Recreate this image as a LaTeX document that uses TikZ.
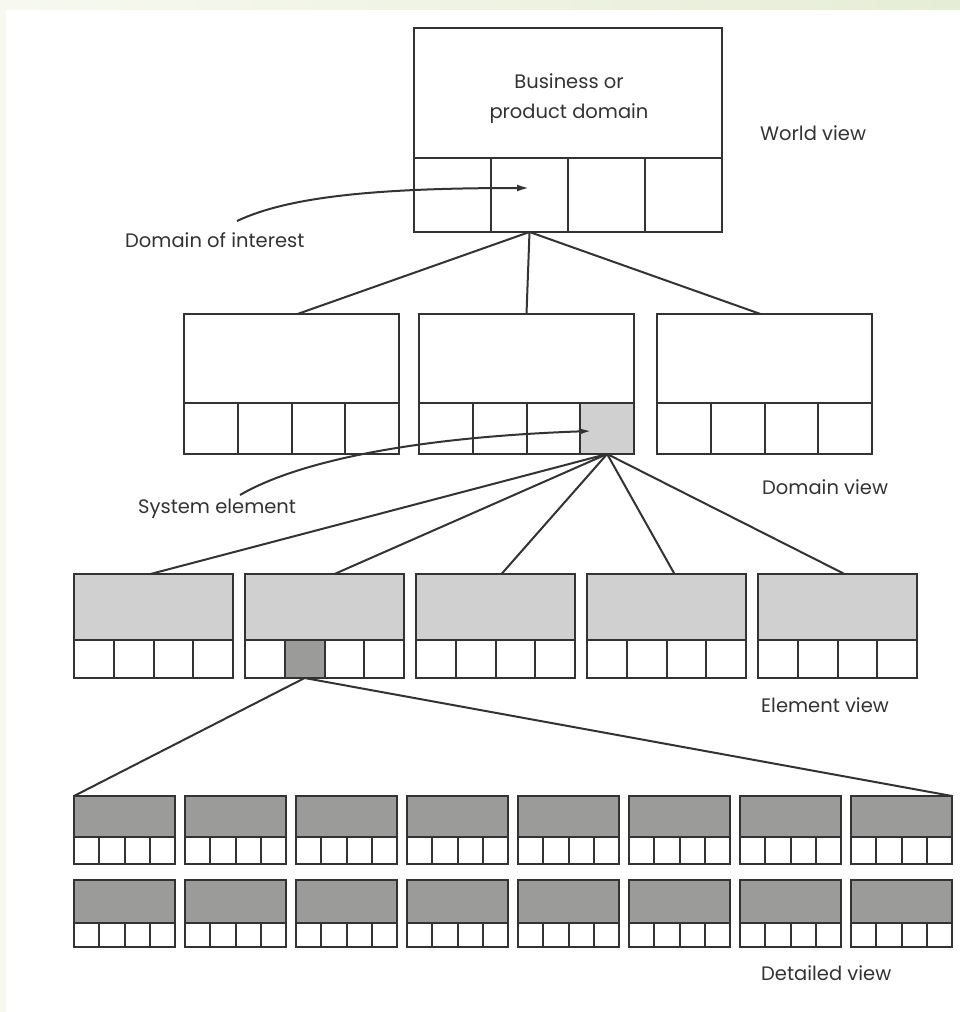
\documentclass[tikz,border=0pt]{standalone}
\usepackage{fontspec}
\setmainfont{Poppins}
\usetikzlibrary{arrows.meta,calc}

\definecolor{ink}{HTML}{333333}
\definecolor{lightfill}{HTML}{D0D0D0}
\definecolor{darkfill}{HTML}{9B9C99}
\definecolor{bgA}{HTML}{F7F9F0}
\definecolor{bgB}{HTML}{E6EDD6}

\tikzset{
  panel/.style={draw=ink, line width=2pt, rectangle, inner sep=0pt, outer sep=0pt, anchor=north west},
  link/.style={draw=ink, line width=2pt},
  pointer/.style={draw=ink, line width=2pt, -{Latex[length=12pt,width=7pt]}},
  caption/.style={inner sep=0pt, text=ink, font=\fontsize{19.5}{30}\selectfont, align=center}
}

% a view: upper panel with a row of four cells below it
% #1 name, #2 x, #3 y, #4 width, #5 panel height, #6 cell height,
% #7 panel fill, #8 index of the shaded cell (0 = none), #9 its fill
\newcommand\viewbox[9]{%
  \node[panel, fill=#7, minimum width=#4, minimum height=#5] (#1) at ({#2},{#3}) {};
  \foreach \c in {1,...,4}{%
    \ifnum\c=#8\relax\def\cellfill{#9}\else\def\cellfill{white}\fi
    \node[panel, fill=\cellfill, minimum width=#4/4, minimum height=#6]
      (#1-\c) at ({#2+(\c-1)*#4/4}, {#3+#5}) {};
  }%
}

\begin{document}
\begin{tikzpicture}[x=1pt, y=-1pt]
  \useasboundingbox (0,0) rectangle (960,1012);
  % page background with a pale border strip
  \fill[white] (0,0) rectangle (960,1012);
  \shade[left color=bgA, right color=bgB] (0,0) rectangle (960,9);
  \fill[bgA] (0,9) rectangle (6,1012);

  % world view
  \viewbox{world}{414}{28}{308}{130}{74}{white}{0}{white}
  \node[caption] (domainname) at (569,99) {Business or\\product domain};
  \node[caption, anchor=west] (worldlbl) at (760,133) {World view};

  % domain view
  \viewbox{dom1}{184}{314}{215}{89}{51}{white}{0}{white}
  \viewbox{dom2}{419}{314}{215}{89}{51}{white}{4}{lightfill}
  \viewbox{dom3}{657}{314}{215}{89}{51}{white}{0}{white}
  \node[caption, anchor=west] (domlbl) at (762,487) {Domain view};

  \draw[link] (world-2.south) -- ([xshift=6pt]dom1.north);
  \draw[link] (world-2.south) -- (dom2.north);
  \draw[link] (world-2.south) -- ([xshift=-4pt]dom3.north);

  % element view
  \viewbox{el1}{74}{574}{159}{66}{38}{lightfill}{0}{white}
  \viewbox{el2}{245}{574}{159}{66}{38}{lightfill}{2}{darkfill}
  \viewbox{el3}{416}{574}{159}{66}{38}{lightfill}{0}{white}
  \viewbox{el4}{587}{574}{159}{66}{38}{lightfill}{0}{white}
  \viewbox{el5}{758}{574}{159}{66}{38}{lightfill}{0}{white}
  \node[caption, anchor=west] (ellbl) at (761,705) {Element view};

  \draw[link] (dom2-4.south) -- ([xshift=-3pt]el1.north);
  \draw[link] (dom2-4.south) -- ([xshift=10pt]el2.north);
  \draw[link] (dom2-4.south) -- ([xshift=6pt]el3.north);
  \draw[link] (dom2-4.south) -- ([xshift=8pt]el4.north);
  \draw[link] (dom2-4.south) -- ([xshift=7pt]el5.north);

  % detailed view, two rows of eight
  \foreach \i in {1,...,8}{
    \viewbox{da\i}{74+(\i-1)*111}{796}{101}{41}{27}{darkfill}{0}{white}
    \viewbox{db\i}{74+(\i-1)*111}{880}{101}{43}{24}{darkfill}{0}{white}
  }
  \node[caption, anchor=west] (detlbl) at (761,973) {Detailed view};

  \draw[link] (el2-2.south) -- (da1.north west);
  \draw[link] (el2-2.south) -- (da8.north east);

  % callouts
  \node[caption, anchor=west] (doi) at (125,240) {Domain of interest};
  \coordinate (doiTail) at (237,221);
  \coordinate (doiTip) at (529,188);
  \draw[pointer] (doiTail) .. controls (290,196) and (380,188) .. (doiTip);

  \node[caption, anchor=west] (sys) at (138,509) {System element};
  \coordinate (sysTail) at (240,495);
  \coordinate (sysTip) at (591,431);
  \draw[pointer] (sysTail) .. controls (300,460) and (420,437) .. (sysTip);
\end{tikzpicture}
\end{document}
